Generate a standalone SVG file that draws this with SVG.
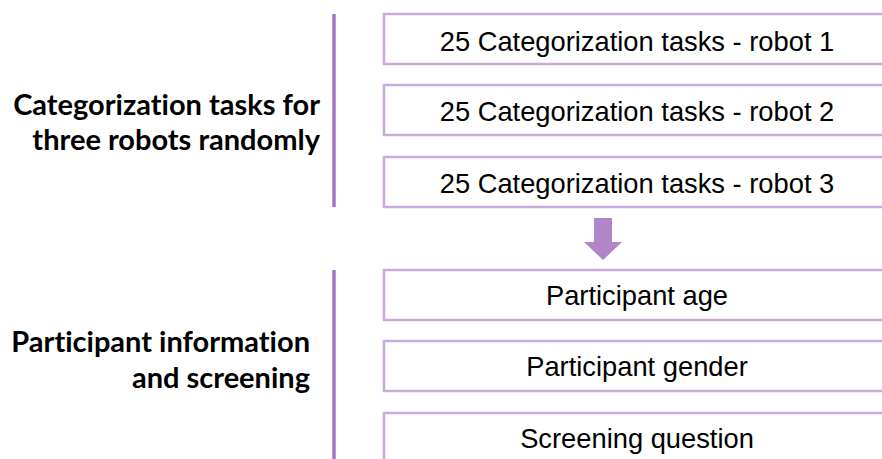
<svg xmlns="http://www.w3.org/2000/svg" width="882" height="459" viewBox="0 0 882 459">
<style>
.box{fill:#fff;stroke:#c9aadb;stroke-width:2.5}
.bt{font-family:"Liberation Sans",Arial,sans-serif;font-size:27.3px;fill:#000;text-anchor:middle}
.lab{font-family:Lato,"Open Sans",sans-serif;font-weight:bold;font-size:29px;fill:#000;text-anchor:end;font-variant-ligatures:none}
.bar{stroke:#a374c0;stroke-width:3.5;fill:none}
</style>
<rect width="882" height="459" fill="#fff"/>
<g id="label-top"><text class="lab" x="320" y="115">Categorization tasks for</text><text class="lab" x="320" y="150">three robots randomly</text></g>
<g id="label-bottom"><text class="lab" x="310" y="352">Participant information</text><text class="lab" x="310" y="388">and screening</text></g>
<g id="connectors">
<line class="bar" x1="334" y1="14" x2="334" y2="207"/>
<line class="bar" x1="334" y1="270" x2="334" y2="459"/>
<polygon points="594,218 612,218 612,242 622,242 603,260 584,242 594,242" fill="#b086c8"/>
</g>
<g id="n1"><rect class="box" x="384" y="14" width="510" height="50"/><text class="bt" x="637" y="51">25 Categorization tasks - robot 1</text></g>
<g id="n2"><rect class="box" x="384" y="85" width="510" height="50"/><text class="bt" x="637" y="121">25 Categorization tasks - robot 2</text></g>
<g id="n3"><rect class="box" x="384" y="157" width="510" height="50"/><text class="bt" x="637" y="193">25 Categorization tasks - robot 3</text></g>
<g id="n4"><rect class="box" x="384" y="270" width="510" height="50"/><text class="bt" x="637" y="305">Participant age</text></g>
<g id="n5"><rect class="box" x="384" y="341" width="510" height="50"/><text class="bt" x="637" y="376">Participant gender</text></g>
<g id="n6"><rect class="box" x="384" y="413" width="510" height="60"/><text class="bt" x="637" y="448">Screening question</text></g>
</svg>
